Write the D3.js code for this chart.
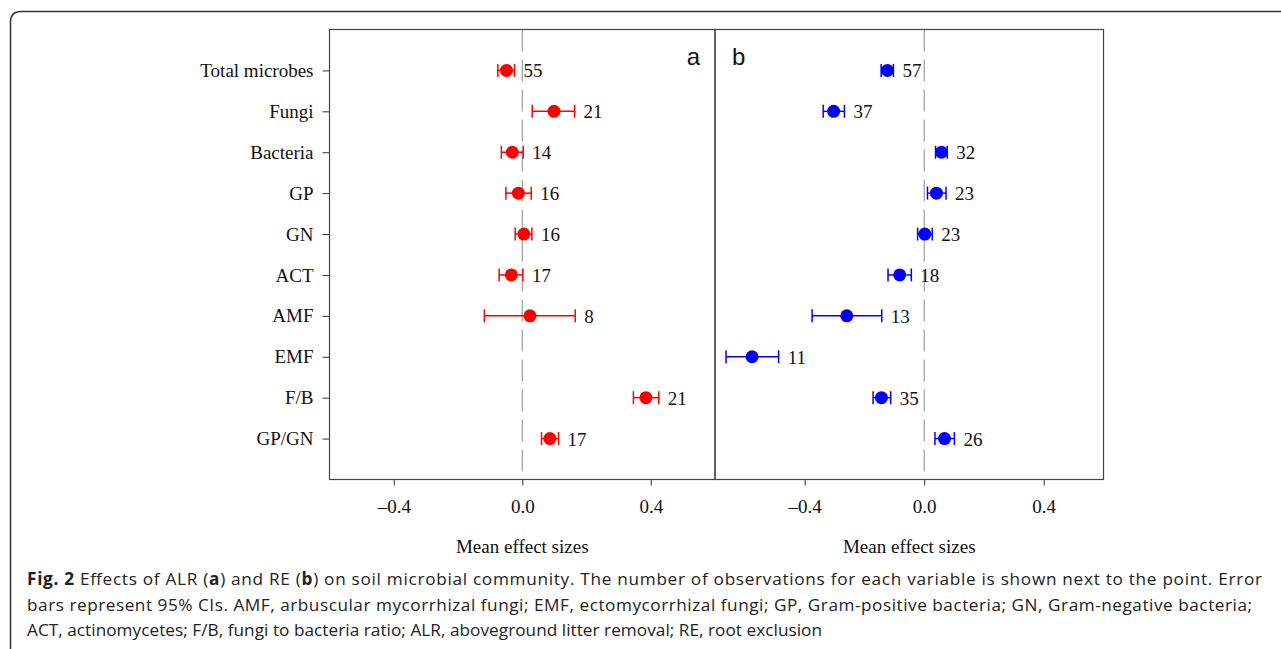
<!DOCTYPE html>
<html>
<head>
<meta charset="utf-8">
<script src="https://cdn.jsdelivr.net/npm/d3@7"></script>
<style>
  body { margin: 0; background: #fff; }
  svg { display: block; }
</style>
</head>
<body>
<div id="plot"></div>
<script>
const categories = ["Total microbes", "Fungi", "Bacteria", "GP", "GN", "ACT", "AMF", "EMF", "F/B", "GP/GN"];
const xTicks = [-0.4, 0, 0.4];

// panel a, aboveground litter removal (no EMF data)
const alrMean  = [-0.049, 0.099, -0.031, -0.012, 0.005, -0.034, 0.024, null, 0.385, 0.086];
const alrLower = [-0.076, 0.031, -0.065, -0.051, -0.022, -0.072, -0.118, null, 0.346, 0.060];
const alrUpper = [-0.024, 0.163, 0.003, 0.028, 0.030, 0.002, 0.165, null, 0.425, 0.113];
const alrN     = [55, 21, 14, 16, 16, 17, 8, null, 21, 17];

// panel b, root exclusion
const reMean  = [-0.123, -0.303, 0.058, 0.041, 0.002, -0.082, -0.259, -0.576, -0.143, 0.068];
const reLower = [-0.144, -0.338, 0.038, 0.011, -0.022, -0.121, -0.375, -0.663, -0.171, 0.036];
const reUpper = [-0.103, -0.267, 0.077, 0.073, 0.027, -0.043, -0.142, -0.487, -0.112, 0.101];
const reN     = [57, 37, 32, 23, 23, 18, 13, 11, 35, 26];

const w = 1281;
const h = 649;
const plotTop = 29.5;
const plotBottom = 479.5;
const serif = "'Liberation Serif', 'Times New Roman', serif";

const svg = d3.select("#plot")
              .append("svg")
              .attr("width", w)
              .attr("height", h);

// outer rounded frame, only top-left corner is in view
svg.append("path")
   .attr("d", "M10.5,660 L10.5,22 Q10.5,11.5 21,11.5 L1290,11.5")
   .attr("fill", "none")
   .attr("stroke", "#333")
   .attr("stroke-width", 1.5);

const yScale = d3.scalePoint()
                 .domain(categories)
                 .range([plotTop, plotBottom])
                 .padding(1);

function constructPanel(opt){
  const xScale = d3.scaleLinear()
                   .domain(opt.domain)
                   .range(opt.range);
  const g = svg.append("g");
  const rows = categories.map((c, i) => ({
    cat: c, mean: opt.mean[i], lo: opt.lower[i], hi: opt.upper[i], n: opt.n[i]
  })).filter(d => d.mean !== null);

  // zero reference line
  g.append("line")
   .attr("x1", xScale(0)).attr("x2", xScale(0))
   .attr("y1", plotTop).attr("y2", plotBottom)
   .attr("stroke", "#8a8a8a")
   .attr("stroke-width", 1)
   .attr("stroke-dasharray", "22,8");

  const xAxis = d3.axisBottom(xScale)
                  .tickValues(xTicks)
                  .tickSize(6)
                  .tickPadding(14)
                  .tickFormat(d => d3.format(".1f")(d).replace("\u2212", "\u2013"));
  const ax = g.append("g")
              .attr("transform", "translate(0," + plotBottom + ")")
              .call(xAxis);
  ax.select(".domain").remove();
  ax.selectAll("line").attr("stroke", "#333");
  ax.selectAll("text")
    .attr("font-family", serif)
    .attr("font-size", 19)
    .attr("fill", "#111");

  if (opt.yAxis){
    const ay = g.append("g")
                .attr("transform", "translate(" + opt.range[0] + ",0)")
                .call(d3.axisLeft(yScale).tickSize(7).tickPadding(9));
    ay.select(".domain").remove();
    ay.selectAll("line").attr("stroke", "#333");
    ay.selectAll("text")
      .attr("font-family", serif)
      .attr("font-size", 19)
      .attr("fill", "#111");
  }

  // frame
  g.append("rect")
   .attr("x", opt.range[0]).attr("y", plotTop)
   .attr("width", opt.range[1] - opt.range[0])
   .attr("height", plotBottom - plotTop)
   .attr("fill", "none")
   .attr("stroke", "#444")
   .attr("stroke-width", 1.2);

  //-------------------error bars---------------------------
  const bars = g.selectAll(".bar")
                .data(rows)
                .enter()
                .append("g")
                .attr("class", "bar")
                .attr("stroke", opt.color)
                .attr("stroke-width", 1.5);
  bars.append("line")
      .attr("x1", d => xScale(d.lo)).attr("x2", d => xScale(d.hi))
      .attr("y1", d => yScale(d.cat)).attr("y2", d => yScale(d.cat));
  bars.append("line")
      .attr("x1", d => xScale(d.lo)).attr("x2", d => xScale(d.lo))
      .attr("y1", d => yScale(d.cat) - 6.5).attr("y2", d => yScale(d.cat) + 6.5);
  bars.append("line")
      .attr("x1", d => xScale(d.hi)).attr("x2", d => xScale(d.hi))
      .attr("y1", d => yScale(d.cat) - 6.5).attr("y2", d => yScale(d.cat) + 6.5);
  g.selectAll(".pt")
   .data(rows)
   .enter()
   .append("circle")
   .attr("class", "pt")
   .attr("cx", d => xScale(d.mean))
   .attr("cy", d => yScale(d.cat))
   .attr("r", 6.5)
   .attr("fill", opt.color);
  g.selectAll(".nlab")
   .data(rows)
   .enter()
   .append("text")
   .attr("class", "nlab")
   .attr("x", d => xScale(d.hi) + 9)
   .attr("y", d => yScale(d.cat) + 7)
   .attr("font-family", serif)
   .attr("font-size", 19)
   .attr("fill", "#111")
   .text(d => d.n);

  // panel letter
  g.append("text")
   .attr("x", opt.letterX)
   .attr("y", 65)
   .attr("text-anchor", opt.letterAnchor)
   .attr("font-family", "'Liberation Sans', Arial, sans-serif")
   .attr("font-size", 24)
   .attr("fill", "#111")
   .text(opt.letter);

  g.append("text")
   .attr("x", (opt.range[0] + opt.range[1]) / 2)
   .attr("y", 553)
   .attr("text-anchor", "middle")
   .attr("font-family", serif)
   .attr("font-size", 19)
   .attr("fill", "#111")
   .text("Mean effect sizes");
}

constructPanel({domain: [-0.6, 0.6], range: [329.5, 715], mean: alrMean, lower: alrLower,
  upper: alrUpper, n: alrN, color: "#ff0000", letter: "a", letterX: 700, letterAnchor: "end", yAxis: true});
constructPanel({domain: [-0.7, 0.6], range: [715, 1103.5], mean: reMean, lower: reLower,
  upper: reUpper, n: reN, color: "#0000ff", letter: "b", letterX: 732, letterAnchor: "start", yAxis: false});

//--------------------caption---------------------------
const caption = [
  [["Fig. 2", true], [" Effects of ALR (", false], ["a", true], [") and RE (", false], ["b", true],
   [") on soil microbial community. The number of observations for each variable is shown next to the point. Error", false]],
  [["bars represent 95% CIs. AMF, arbuscular mycorrhizal fungi; EMF, ectomycorrhizal fungi; GP, Gram-positive bacteria; GN, Gram-negative bacteria;", false]],
  [["ACT, actinomycetes; F/B, fungi to bacteria ratio; ALR, aboveground litter removal; RE, root exclusion", false]]
];
const lineWidths = [1235, 1225, 795];

caption.forEach((line, i) => {
  const t = svg.append("text")
               .attr("x", 27)
               .attr("y", 585 + i * 25.5)
               .attr("font-family", "'Open Sans', sans-serif")
               .attr("font-size", 17.2)
               .attr("fill", "#222");
  line.forEach(seg => {
    t.append("tspan")
     .attr("font-weight", seg[1] ? "bold" : "normal")
     .text(seg[0]);
  });
  t.attr("textLength", lineWidths[i]).attr("lengthAdjust", "spacing");
});
</script>
</body>
</html>
